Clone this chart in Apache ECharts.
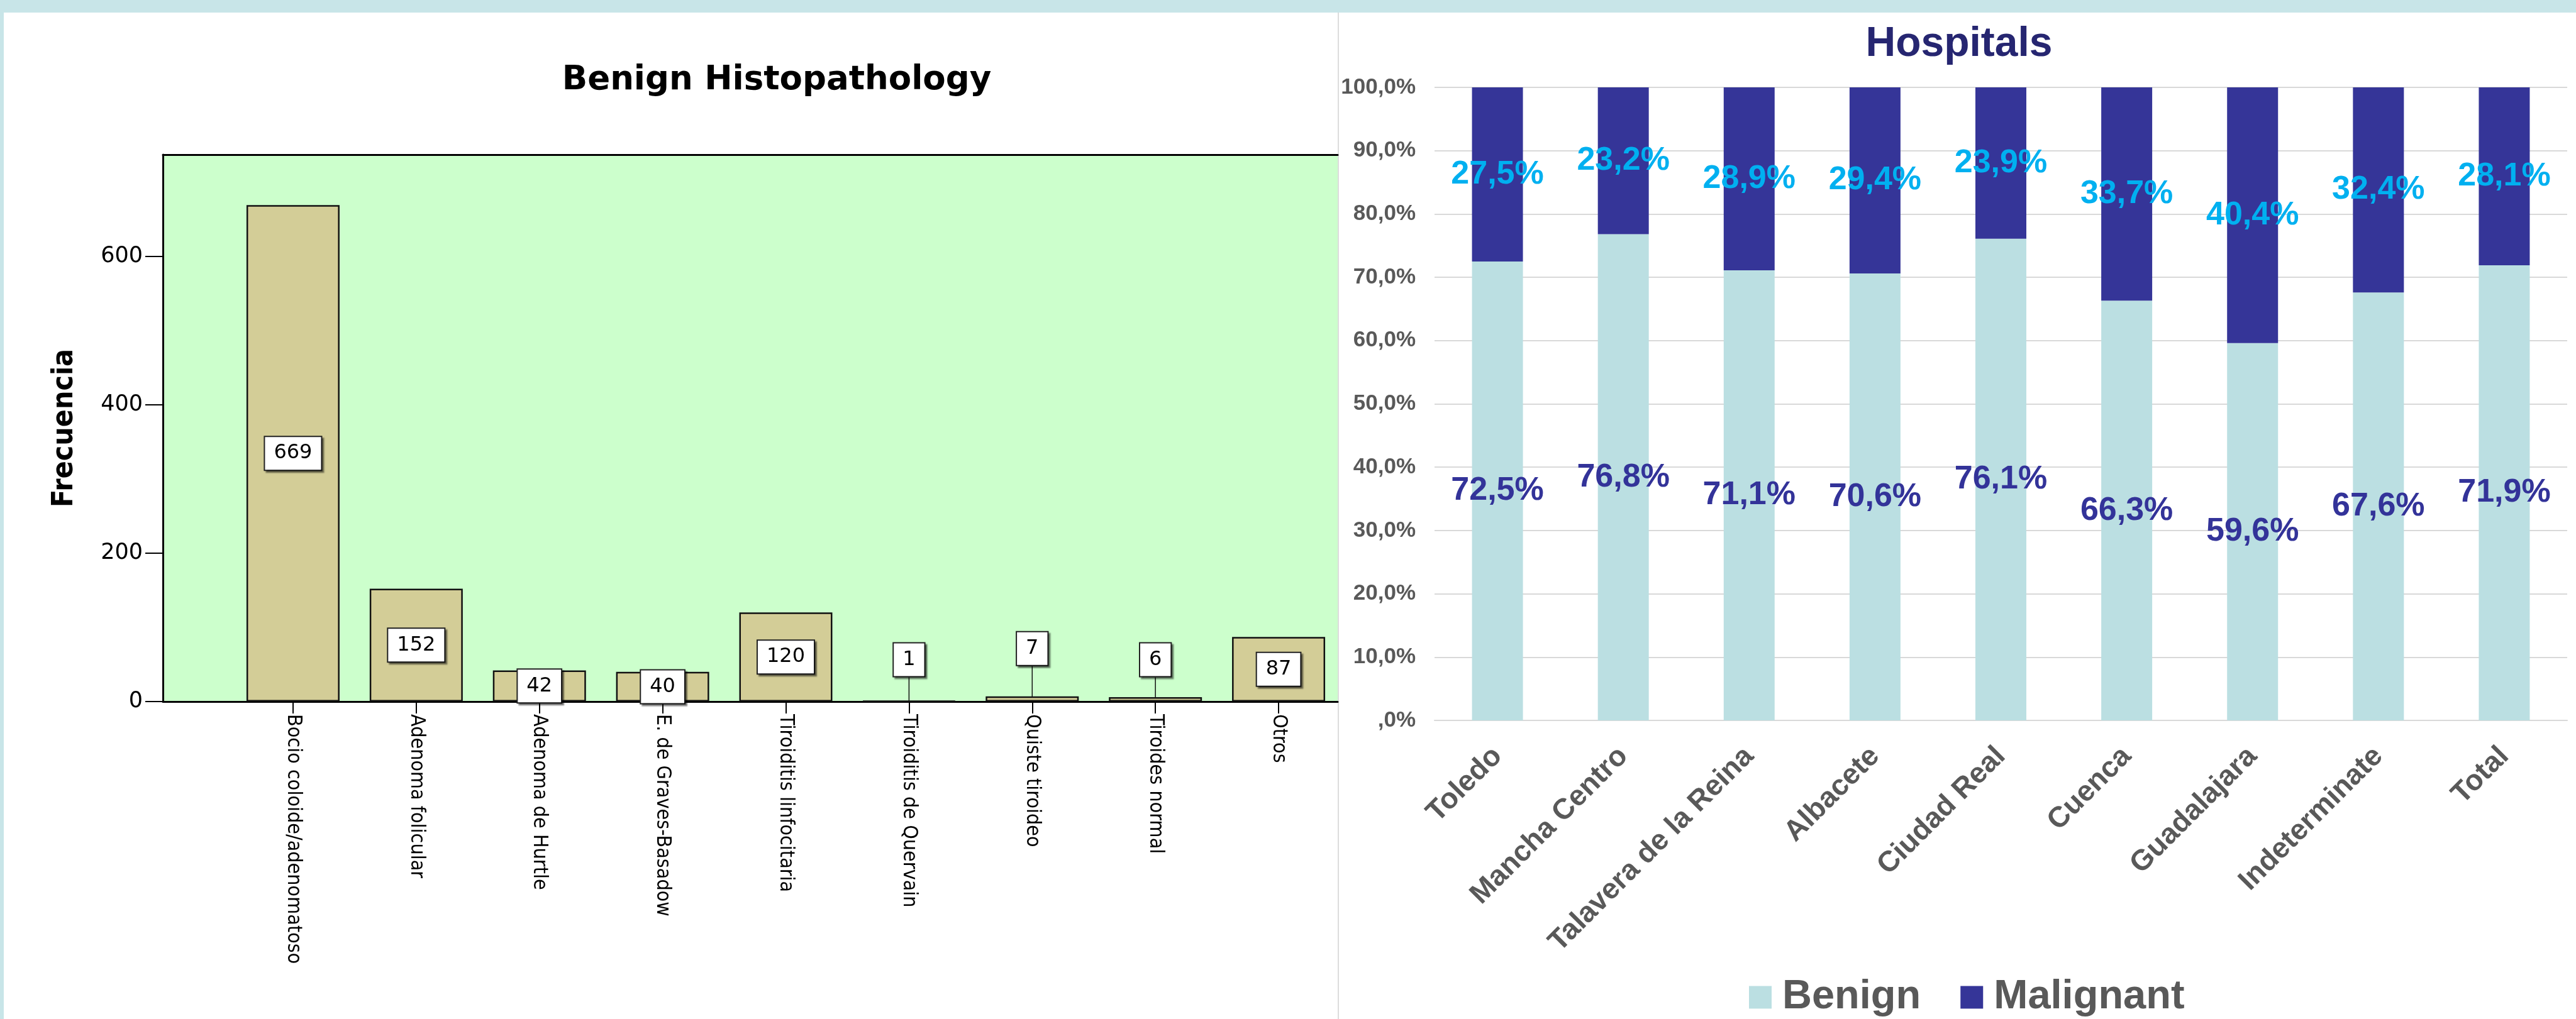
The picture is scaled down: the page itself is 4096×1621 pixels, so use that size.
<!DOCTYPE html>
<html>
<head>
<meta charset="utf-8">
<title>Benign Histopathology / Hospitals</title>
<script src="https://cdn.jsdelivr.net/npm/echarts@6/dist/echarts.min.js"></script>
<style>
  html, body { margin: 0; padding: 0; background: #fff; }
  #main { width: 4096px; height: 1621px; }
</style>
</head>
<body>
<div id="main"></div>
<script>
// left panel: benign histopathology (frequency)
var histoCategories = ['Bocio coloide/adenomatoso', 'Adenoma folicular', 'Adenoma de Hurtle',
  'E. de Graves-Basadow', 'Tiroiditis linfocitaria', 'Tiroiditis de Quervain',
  'Quiste tiroideo', 'Tiroides normal', 'Otros'];
var histoCounts = [669, 152, 42, 40, 120, 1, 7, 6, 87];
var freqTicks = [0, 200, 400, 600];
var freqMax = 737;

// right panel: hospitals, benign vs malignant (%)
var hospitals = ['Toledo', 'Mancha Centro', 'Talavera de la Reina', 'Albacete', 'Ciudad Real',
  'Cuenca', 'Guadalajara', 'Indeterminate', 'Total'];
var benignPct = [72.5, 76.8, 71.1, 70.6, 76.1, 66.3, 59.6, 67.6, 71.9];
var malignantPct = [27.5, 23.2, 28.9, 29.4, 23.9, 33.7, 40.4, 32.4, 28.1];
var legendNames = ['Benign', 'Malignant'];

// tiny bars get their label lifted above the bar with a leader line
var calloutDy = {5: -66, 6: -80, 7: -63};

var narrow = '"Liberation Sans Narrow", "DejaVu Sans Condensed", sans-serif';
var wide = '"DejaVu Sans", sans-serif';
var arial = '"Liberation Sans", Arial, sans-serif';

function pct(p) {
  return p.value.toFixed(1).replace('.', ',') + '%';
}

var chartDom = document.getElementById('main');
var myChart = echarts.init(chartDom);
var option;

var frameLine = {show: true, onZero: false, lineStyle: {color: '#000', width: 3}};

option = {
  backgroundColor: '#ffffff',
  animation: false,
  title: [
    {
      text: 'Benign Histopathology', left: 1235, top: 102, padding: 0, textAlign: 'center',
      textStyle: {fontFamily: wide, fontWeight: 'bold', fontSize: 53, lineHeight: 53, color: '#000'}
    },
    {
      text: 'Hospitals', left: 3115, top: 38, padding: 0, textAlign: 'center',
      textStyle: {fontFamily: arial, fontWeight: 'bold', fontSize: 66, lineHeight: 66, color: '#262671'}
    }
  ],
  graphic: [
    {type: 'rect', silent: true, shape: {x: 0, y: 0, width: 4096, height: 20}, style: {fill: '#c8e5e8'}},
    {type: 'rect', silent: true, shape: {x: 0, y: 0, width: 6, height: 1621}, style: {fill: '#c8e5e8'}},
    {type: 'line', silent: true, shape: {x1: 2128, y1: 20, x2: 2128, y2: 1621}, style: {stroke: '#dcdcdc', lineWidth: 2}}
  ],
  legend: {
    data: legendNames,
    left: 2776, top: 1549,
    icon: 'rect', itemWidth: 36, itemHeight: 36, itemGap: 63,
    textStyle: {fontFamily: arial, fontWeight: 'bold', fontSize: 65, color: '#595959', padding: [0, 0, 0, 12]}
  },
  grid: [
    {left: 259, top: 246, width: 1868, height: 870, show: true, backgroundColor: '#ccffcc', borderWidth: 0},
    {left: 368, top: 246, width: 1763, height: 870},
    {left: 2281, top: 139, width: 1801, height: 1007}
  ],
  xAxis: [
    {gridIndex: 0, type: 'value', min: 0, max: 1, axisLine: frameLine,
      axisTick: {show: false}, axisLabel: {show: false}, splitLine: {show: false}},
    {gridIndex: 0, type: 'value', position: 'top', min: 0, max: 1, axisLine: frameLine,
      axisTick: {show: false}, axisLabel: {show: false}, splitLine: {show: false}},
    {
      gridIndex: 1, type: 'category', data: histoCategories,
      axisLine: {show: false},
      axisTick: {show: true, alignWithLabel: true, length: 19, lineStyle: {color: '#000', width: 2}},
      axisLabel: {interval: 0, rotate: -90, margin: 20, fontFamily: narrow, fontSize: 32, color: '#000'}
    },
    {
      gridIndex: 2, type: 'category', data: hospitals,
      axisLine: {show: true, lineStyle: {color: '#d9d9d9', width: 2}},
      axisTick: {show: false},
      axisLabel: {interval: 0, rotate: 45, margin: 50, fontFamily: arial, fontWeight: 'bold', fontSize: 46, color: '#595959'}
    }
  ],
  yAxis: [
    {
      gridIndex: 0, type: 'value', min: 0, max: freqMax,
      name: 'Frecuencia', nameLocation: 'middle', nameGap: 133,
      nameTextStyle: {fontFamily: narrow, fontWeight: 'bold', fontSize: 46, color: '#000'},
      axisLine: frameLine,
      axisTick: {show: true, length: 28, customValues: freqTicks, lineStyle: {color: '#000', width: 2}},
      axisLabel: {margin: 32, customValues: freqTicks, fontFamily: wide, fontSize: 35, color: '#000'},
      splitLine: {show: false}
    },
    {gridIndex: 1, type: 'value', min: 0, max: freqMax, show: false},
    {
      gridIndex: 2, type: 'value', min: 0, max: 100, interval: 10,
      axisLine: {show: false}, axisTick: {show: false},
      axisLabel: {
        margin: 30, fontFamily: arial, fontWeight: 'bold', fontSize: 35, color: '#595959',
        formatter: function (v) { return v === 0 ? ',0%' : v + ',0%'; }
      },
      splitLine: {lineStyle: {color: '#d9d9d9', width: 2}}
    }
  ],
  series: [
    {
      name: 'Frecuencia', type: 'bar', xAxisIndex: 2, yAxisIndex: 1, barWidth: 148,
      data: histoCounts.map(function (v, i) {
        return calloutDy[i] ? {value: v, labelLine: {show: true}} : v;
      }),
      itemStyle: {color: '#d3cd97', borderColor: '#111', borderWidth: 2.5},
      label: {
        show: true, position: 'inside', fontFamily: wide, fontSize: 32, lineHeight: 32, color: '#000',
        backgroundColor: '#fff', borderColor: '#222', borderWidth: 2, padding: [10, 14],
        shadowColor: 'rgba(0,0,0,0.45)', shadowBlur: 2, shadowOffsetX: 3, shadowOffsetY: 3
      },
      labelLine: {show: false, lineStyle: {color: '#111', width: 1.5}},
      labelLayout: function (params) {
        var dy = calloutDy[params.dataIndex];
        return dy ? {dy: dy} : {};
      }
    },
    {
      name: 'Benign', type: 'bar', stack: 'hosp', xAxisIndex: 3, yAxisIndex: 2, barWidth: 81,
      data: benignPct,
      itemStyle: {color: '#bbdfe2'},
      label: {show: true, position: 'inside', formatter: pct, fontFamily: arial, fontWeight: 'bold', fontSize: 52, color: '#333399'}
    },
    {
      name: 'Malignant', type: 'bar', stack: 'hosp', xAxisIndex: 3, yAxisIndex: 2, barWidth: 81,
      data: malignantPct,
      itemStyle: {color: '#353598'},
      label: {show: true, position: 'inside', formatter: pct, fontFamily: arial, fontWeight: 'bold', fontSize: 52, color: '#00b0f0'}
    }
  ]
};

option && myChart.setOption(option);
</script>
</body>
</html>
